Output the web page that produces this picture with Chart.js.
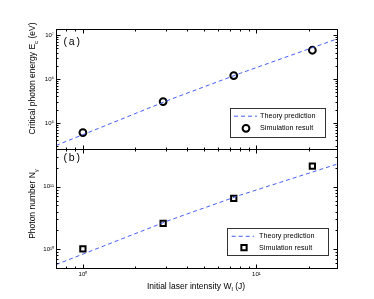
<!DOCTYPE html>
<html><head><meta charset="utf-8">
<script src="https://cdn.jsdelivr.net/npm/chart.js@4/dist/chart.umd.min.js"></script>
<style>
html,body{margin:0;padding:0;background:#fff;}
#wrap{position:relative;width:374px;height:299px;overflow:hidden;}
canvas{position:absolute;left:0;top:0;}
</style></head><body>
<div id="wrap"><canvas id="ca" width="374" height="299"></canvas><canvas id="cb" width="374" height="299"></canvas></div>
<script>
// ---------------- data ----------------
const simIntensity    = [1, 2.9, 7.4, 21];
const theoryIntensity = [0.7, 3.2, 8.1, 29];
const energySim       = [6.0e4, 3.05e5, 1.19e6, 4.5e6];
const energyTheory    = [3.05e4, 3.43e5, 1.35e6, 8.1e6];
const photonSim       = [1.0e10, 2.57e10, 6.5e10, 2.14e11];
const photonTheory    = [5.6e9, 2.94e10, 7.36e10, 2.3e11];

const xTickValues  = [0.7,0.8,0.9,1,2,3,4,5,6,7,8,9,10,20];
const xMajorTicks  = [1, 10];
const xMajorLabels = ['10\u2070', '10\u00b9'];

const energyTickValues  = [3e4,4e4,5e4,6e4,7e4,8e4,9e4,1e5,2e5,3e5,4e5,5e5,6e5,7e5,8e5,9e5,1e6,2e6,3e6,4e6,5e6,6e6,7e6,8e6,9e6,1e7];
const energyMajorTicks  = [1e5, 1e6, 1e7];
const energyMajorLabels = ['10\u2075', '10\u2076', '10\u2077'];

const photonTickValues  = [5e9,6e9,7e9,8e9,9e9,1e10,2e10,3e10,4e10,5e10,6e10,7e10,8e10,9e10,1e11,2e11,3e11,4e11];
const photonMajorTicks  = [1e10, 1e11];
const photonMajorLabels = ['10\u00b9\u2070', '10\u00b9\u00b9'];

const legendTheory = 'Theory prediction';
const legendSim    = 'Simulation result';

// ---------------- helpers ----------------
const FONT = '"Liberation Sans", Arial, Helvetica, sans-serif';
Chart.defaults.font.family = FONT;
Chart.defaults.color = '#000';

function pts(xs, ys) { return xs.map((x, i) => ({x: x, y: ys[i]})); }
function setTicks(values) { return s => { s.ticks = values.map(v => ({value: v})); }; }
function labelFn(majors, labels) { return v => { const i = majors.indexOf(v); return i >= 0 ? labels[i] : ''; }; }

function richText(ctx, segs, cx, cy, rot, size) {
  ctx.save();
  ctx.translate(cx, cy);
  ctx.rotate(rot);
  ctx.textBaseline = 'alphabetic';
  ctx.fillStyle = '#000';
  let total = 0;
  segs.forEach(s => { ctx.font = (s.sub ? size * 0.72 : size) + 'px ' + FONT; s.w = ctx.measureText(s.t).width; total += s.w; });
  let x = -total / 2;
  const base = size * 0.36;
  segs.forEach(s => {
    ctx.font = (s.sub ? size * 0.72 : size) + 'px ' + FONT;
    ctx.fillText(s.t, x, base + (s.sub ? size * 0.3 : 0));
    x += s.w;
  });
  ctx.restore();
}

function drawFrameAndTicks(chart, xMajors, yMajors) {
  const ctx = chart.ctx, a = chart.chartArea;
  const xs = chart.scales.x, ys = chart.scales.y;
  ctx.save();
  ctx.strokeStyle = '#000';
  ctx.lineWidth = 1;
  const L = Math.round(a.left) + 0.5, R = Math.round(a.right) + 0.5, T = Math.round(a.top) + 0.5, B = Math.round(a.bottom) + 0.5;
  ctx.beginPath();
  xs.ticks.forEach(t => {
    const p = Math.round(xs.getPixelForValue(t.value)) + 0.5;
    if (p <= L + 1 || p >= R - 1) return;
    const len = xMajors.includes(t.value) ? 4 : 2;
    ctx.moveTo(p, B); ctx.lineTo(p, B - len);
    ctx.moveTo(p, T); ctx.lineTo(p, T + len);
  });
  ys.ticks.forEach(t => {
    const p = Math.round(ys.getPixelForValue(t.value)) + 0.5;
    if (p <= T + 1 || p >= B - 1) return;
    const len = yMajors.includes(t.value) ? 4 : 2;
    ctx.moveTo(L, p); ctx.lineTo(L + len, p);
    ctx.moveTo(R, p); ctx.lineTo(R - len, p);
  });
  ctx.stroke();
  ctx.strokeRect(L, T, R - L, B - T);
  ctx.restore();
}

function drawLegend(chart, L) {
  const ctx = chart.ctx;
  const ds = chart.data.datasets;
  const lineDs = ds[0], simDs = ds[1];
  ctx.save();
  ctx.fillStyle = '#fff';
  ctx.fillRect(L.x, L.y, L.w, L.h);
  ctx.strokeStyle = '#333';
  ctx.lineWidth = 1;
  ctx.strokeRect(Math.round(L.x) + 0.5, Math.round(L.y) + 0.5, Math.round(L.w), Math.round(L.h));
  ctx.strokeStyle = lineDs.borderColor;
  ctx.lineWidth = lineDs.borderWidth;
  ctx.setLineDash(lineDs.borderDash);
  ctx.beginPath();
  ctx.moveTo(L.x + L.line0, L.y + L.row1);
  ctx.lineTo(L.x + L.line1, L.y + L.row1);
  ctx.stroke();
  ctx.setLineDash([]);
  ctx.strokeStyle = simDs.borderColor;
  ctx.fillStyle = 'rgba(0,0,0,0)';
  ctx.lineWidth = simDs.borderWidth;
  Chart.helpers.drawPoint(ctx, {pointStyle: simDs.pointStyle, radius: simDs.pointRadius, borderWidth: simDs.borderWidth, rotation: 0}, L.x + L.mark, L.y + L.row2);
  ctx.fillStyle = '#000';
  ctx.font = '7.2px ' + FONT;
  ctx.textBaseline = 'middle';
  ctx.fillText(lineDs.label, L.x + L.text, L.y + L.row1);
  ctx.fillText(simDs.label, L.x + L.text, L.y + L.row2);
  ctx.restore();
}

function panelLabel(ctx, txt, x, y) {
  ctx.save();
  ctx.font = '10.5px ' + FONT;
  ctx.fillStyle = '#000';
  ctx.textBaseline = 'middle';
  try { ctx.letterSpacing = '1.8px'; } catch (e) {}
  ctx.fillText(txt, x, y);
  ctx.restore();
}

const theoryStyle = {borderColor: 'rgb(70,95,245)', borderWidth: 1, borderDash: [4, 3], pointRadius: 0, showLine: true, fill: false, tension: 0};

// ---------------- top panel ----------------
new Chart(document.getElementById('ca'), {
  type: 'scatter',
  data: {datasets: [
    Object.assign({label: legendTheory, data: pts(theoryIntensity, energyTheory)}, theoryStyle),
    {label: legendSim, data: pts(simIntensity, energySim), showLine: false, pointStyle: 'circle', pointRadius: 3.4, borderWidth: 2, borderColor: '#000', backgroundColor: 'rgba(0,0,0,0)'}
  ]},
  options: {
    responsive: false, animation: false, devicePixelRatio: 1,
    layout: {padding: {left: 0, top: 29.3, right: 37.3, bottom: 149.7}},
    plugins: {legend: {display: false}, tooltip: {enabled: false}},
    scales: {
      x: {type: 'logarithmic', min: 0.7, max: 29, afterBuildTicks: setTicks(xTickValues), afterFit: s => { s.height = 0; },
          grid: {display: false, drawTicks: false}, border: {display: false}, ticks: {display: false, autoSkip: false}},
      y: {type: 'logarithmic', min: 2.5e4, max: 1.35e7, afterBuildTicks: setTicks(energyTickValues), afterFit: s => { s.width = 56; },
          grid: {display: false, drawTicks: false}, border: {display: false},
          ticks: {autoSkip: false, padding: 2, font: {size: 6}, callback: labelFn(energyMajorTicks, energyMajorLabels)}}
    }
  },
  plugins: [{
    id: 'panelA',
    afterDraw(chart) {
      drawFrameAndTicks(chart, xMajorTicks, energyMajorTicks);
      drawLegend(chart, {x: 230, y: 107.7, w: 95, h: 29, row1: 8.5, row2: 20.6, line0: 4, line1: 27, mark: 16, text: 30});
      panelLabel(chart.ctx, '(a)', 63.5, 41.7);
      richText(chart.ctx, [{t: 'Critical photon energy E'}, {t: 'c', sub: true}, {t: ' (eV)'}], 32, 78.5, -Math.PI / 2, 8.5);
    }
  }]
});

// ---------------- bottom panel ----------------
new Chart(document.getElementById('cb'), {
  type: 'scatter',
  data: {datasets: [
    Object.assign({label: legendTheory, data: pts(theoryIntensity, photonTheory)}, theoryStyle),
    {label: legendSim, data: pts(simIntensity, photonSim), showLine: false, pointStyle: 'rect', pointRadius: 3.75, borderWidth: 2, borderColor: '#000', backgroundColor: 'rgba(0,0,0,0)'}
  ]},
  options: {
    responsive: false, animation: false, devicePixelRatio: 1,
    layout: {padding: {left: 0, top: 149.3, right: 37.3, bottom: 0}},
    plugins: {legend: {display: false}, tooltip: {enabled: false}},
    scales: {
      x: {type: 'logarithmic', min: 0.7, max: 29, afterBuildTicks: setTicks(xTickValues), afterFit: s => { s.height = 31.3; },
          grid: {display: false, drawTicks: false}, border: {display: false},
          ticks: {autoSkip: false, maxRotation: 0, padding: 3, font: {size: 6}, callback: labelFn(xMajorTicks, xMajorLabels)}},
      y: {type: 'logarithmic', min: 5e9, max: 4e11, afterBuildTicks: setTicks(photonTickValues), afterFit: s => { s.width = 56; },
          grid: {display: false, drawTicks: false}, border: {display: false},
          ticks: {autoSkip: false, padding: 2, font: {size: 6}, callback: labelFn(photonMajorTicks, photonMajorLabels)}}
    }
  },
  plugins: [{
    id: 'panelB',
    afterDraw(chart) {
      drawFrameAndTicks(chart, xMajorTicks, photonMajorTicks);
      drawLegend(chart, {x: 226.7, y: 228.3, w: 101, h: 26.7, row1: 8, row2: 19.4, line0: 5, line1: 27.3, mark: 17.3, text: 32.3});
      panelLabel(chart.ctx, '(b)', 63.5, 158.3);
      richText(chart.ctx, [{t: 'Photon number N'}, {t: '\u03b3', sub: true}], 32, 204, -Math.PI / 2, 8.5);
      richText(chart.ctx, [{t: 'Initial laser intensity W'}, {t: 'l', sub: true}, {t: ' (J)'}], 196, 285.5, 0, 8.5);
    }
  }]
});
</script>
</body></html>
